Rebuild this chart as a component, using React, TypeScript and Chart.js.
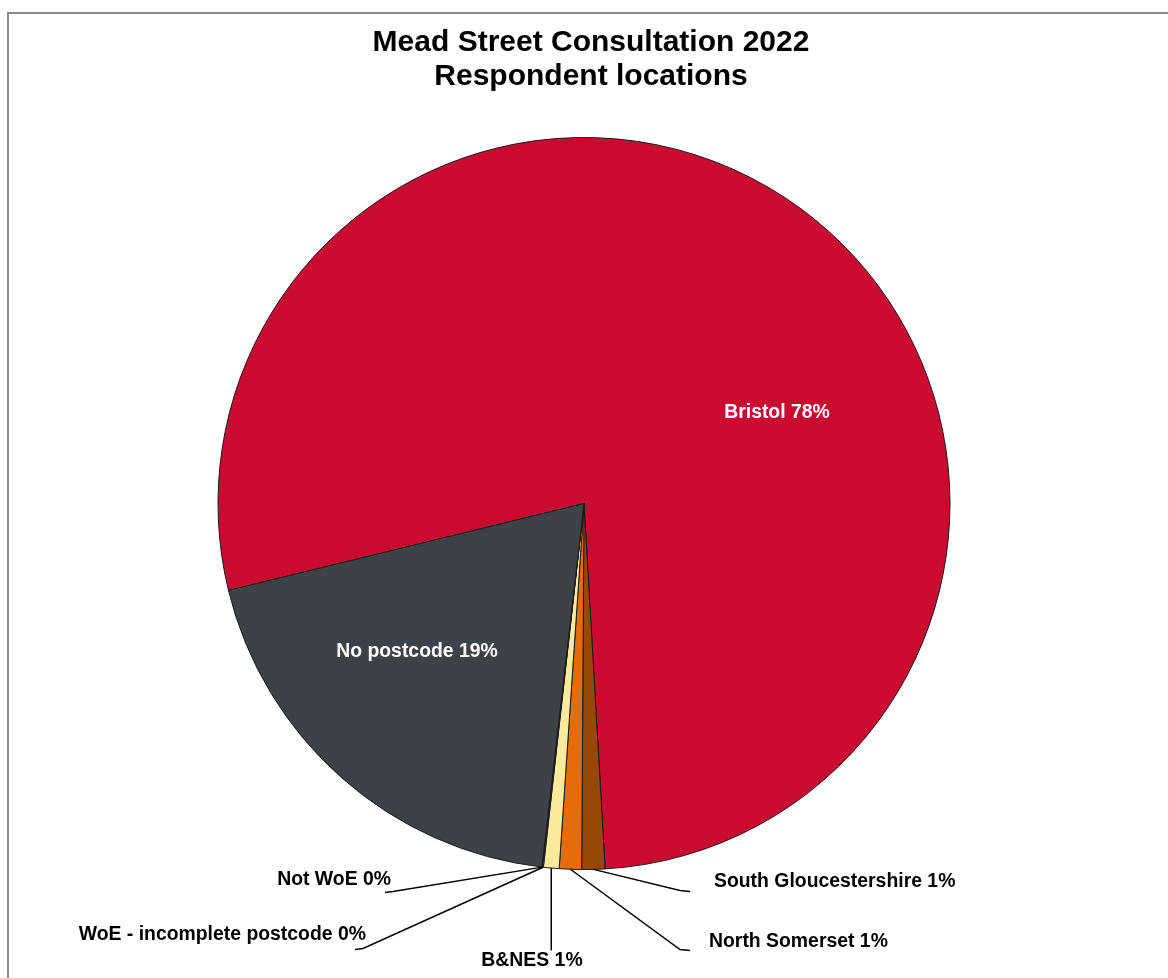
import React, { useEffect, useRef } from "react";
import { Chart, registerables } from "chart.js";

Chart.register(...registerables);

// ---- Data ----
const categories = [
  "Bristol",
  "South Gloucestershire",
  "North Somerset",
  "B&NES",
  "WoE - incomplete postcode",
  "Not WoE",
  "No postcode",
];
const shares = [77.9, 1.02, 0.98, 0.69, 0.03, 0.03, 19.35];
const percentLabels = ["78%", "1%", "1%", "1%", "0%", "0%", "19%"];
const sliceColors = ["#CB0A31", "#974706", "#E46C0A", "#FAEB9B", "#F6C89A", "#C9C9C9", "#3D4249"];
const titleLines = ["Mead Street Consultation 2022", "Respondent locations"];

// ---- Label layout (offsets relative to pie centre) ----
type LabelLayout = {
  inside: boolean;
  dx: number;
  dy: number;
  align: CanvasTextAlign;
  elbow?: [number, number];
  tail?: number;
  vertical?: boolean;
};
const labelLayout: LabelLayout[] = [
  { inside: true, dx: 193, dy: -91, align: "center" },
  { inside: false, dx: 130, dy: 378, align: "left", elbow: [96, 387], tail: 10 },
  { inside: false, dx: 125, dy: 438, align: "left", elbow: [96, 446], tail: 10 },
  { inside: false, dx: -52, dy: 457, align: "center", vertical: true, elbow: [0, 447] },
  { inside: false, dx: -218, dy: 431, align: "right", elbow: [-221, 445], tail: -8 },
  { inside: false, dx: -193, dy: 376, align: "right", elbow: [-191, 388], tail: -8 },
  { inside: true, dx: -167, dy: 148, align: "center" },
];

const FONT = '"Liberation Sans", Arial, Helvetica, sans-serif';

const decorPlugin = {
  id: "decor",
  beforeDraw(chart: any) {
    const ctx = chart.ctx as CanvasRenderingContext2D;
    ctx.save();
    ctx.fillStyle = "#ffffff";
    ctx.fillRect(0, 0, chart.width, chart.height);
    ctx.fillStyle = "#8a8a8a";
    ctx.fillRect(7, 12, chart.width - 7, 2);
    ctx.fillRect(7, 12, 2, chart.height - 12);
    // title
    ctx.fillStyle = "#000000";
    ctx.font = `bold 30px ${FONT}`;
    ctx.textAlign = "center";
    ctx.textBaseline = "middle";
    ctx.fillText(titleLines[0], 591, 43);
    ctx.fillText(titleLines[1], 591, 77);
    ctx.restore();
  },
  afterDatasetsDraw(chart: any) {
    const ctx = chart.ctx as CanvasRenderingContext2D;
    const meta = chart.getDatasetMeta(0);
    ctx.save();
    ctx.font = `bold 19.4px ${FONT}`;
    ctx.textBaseline = "middle";
    meta.data.forEach((arc: any, i: number) => {
      const { x, y, startAngle, endAngle, outerRadius } = arc.getProps(
        ["x", "y", "startAngle", "endAngle", "outerRadius"],
        true
      );
      const lay = labelLayout[i];
      const text = `${categories[i]} ${percentLabels[i]}`;
      if (lay.inside) {
        ctx.fillStyle = "#ffffff";
        ctx.textAlign = "center";
        ctx.fillText(text, x + lay.dx, y + lay.dy);
        return;
      }
      const mid = (startAngle + endAngle) / 2;
      const sx = x + Math.cos(mid) * outerRadius;
      const sy = y + Math.sin(mid) * outerRadius;
      ctx.strokeStyle = "#000000";
      ctx.lineWidth = 1.5;
      ctx.beginPath();
      ctx.moveTo(sx, sy);
      if (lay.vertical) {
        ctx.lineTo(sx, y + (lay.elbow as [number, number])[1]);
      } else if (lay.elbow) {
        const ex = x + lay.elbow[0];
        const ey = y + lay.elbow[1];
        ctx.lineTo(ex, ey);
        ctx.lineTo(ex + (lay.tail || 0), ey + 1);
      }
      ctx.stroke();
      ctx.fillStyle = "#000000";
      ctx.textAlign = lay.align;
      ctx.fillText(text, x + lay.dx, y + lay.dy);
    });
    ctx.restore();
  },
};

export default function App() {
  const ref = useRef<HTMLCanvasElement | null>(null);
  useEffect(() => {
    if (!ref.current) return;
    const chart = new Chart(ref.current, {
      type: "pie",
      data: {
        labels: categories,
        datasets: [
          {
            data: shares,
            backgroundColor: sliceColors,
            borderColor: "#1a1a1a",
            borderWidth: 1,
          },
        ],
      },
      options: {
        responsive: false,
        animation: false,
        rotation: 256.25,
        layout: { padding: { top: 137, bottom: 108, left: 0, right: 0 } },
        plugins: {
          legend: { display: false },
          tooltip: { enabled: false },
          title: { display: false },
        },
      },
      plugins: [decorPlugin],
    });
    return () => chart.destroy();
  }, []);
  return (
    <div style={{ position: "fixed", left: 0, top: 0, width: 1168, height: 978, background: "#fff" }}>
      <canvas ref={ref} width={1168} height={978} style={{ display: "block" }} />
    </div>
  );
}
